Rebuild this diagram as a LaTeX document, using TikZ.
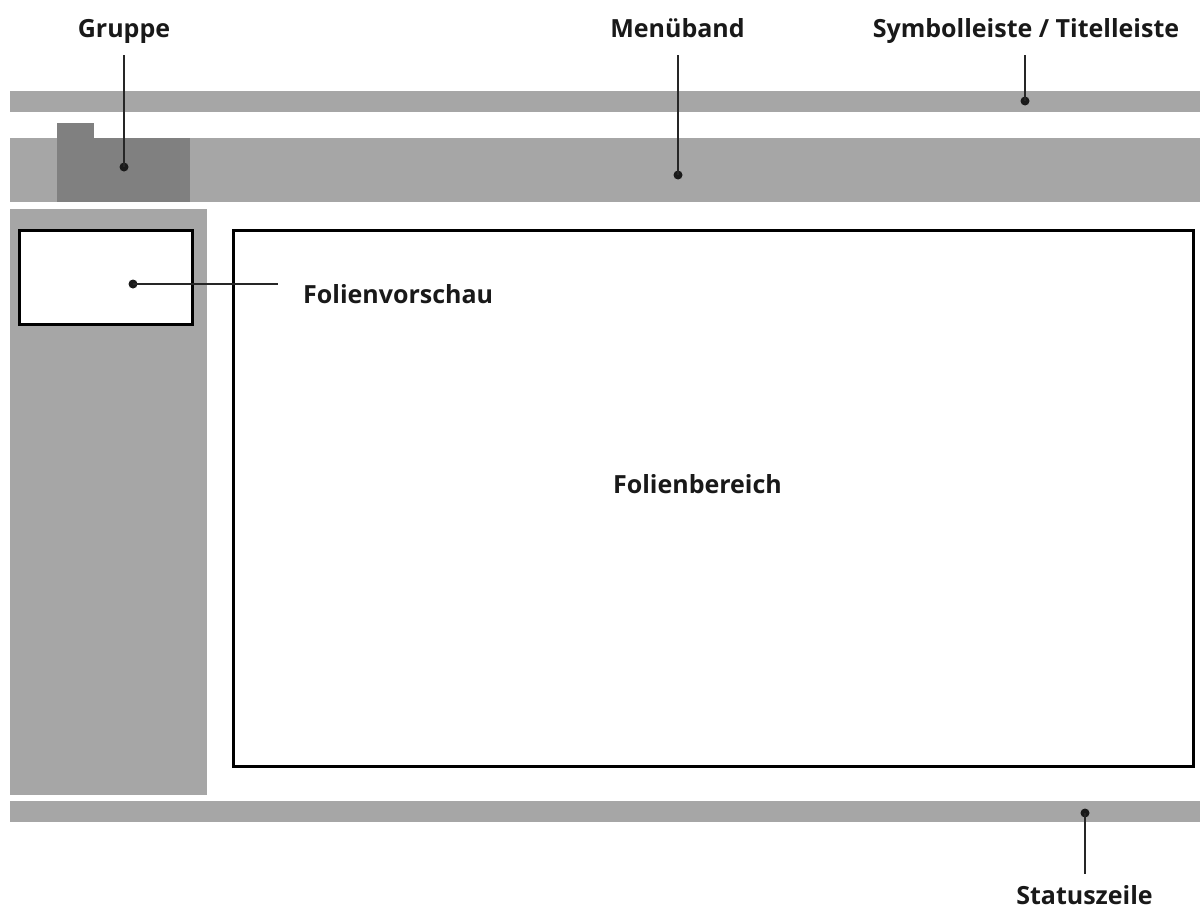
\documentclass[tikz,border=0pt]{standalone}
\usepackage{fontspec}
\setmainfont{Open Sans}
\definecolor{bargray}{HTML}{A6A6A6}
\definecolor{darkgray2}{HTML}{808080}
\definecolor{dotcol}{HTML}{1A1A1A}
\begin{document}
\begin{tikzpicture}[x=1pt,y=-1pt,
  bar/.style={fill=bargray,draw=none},
  frame/.style={draw=black,line width=3pt,fill=white},
  lbl/.style={font=\fontsize{25}{28}\selectfont\bfseries,text=black!90,inner sep=0pt,anchor=base},
  pin/.style={draw=black!85,line width=1.2pt},
  dot/.style={circle,fill=dotcol,inner sep=0pt,minimum size=9pt}]
\useasboundingbox[fill=white] (0,0) rectangle (1200,910);
% bars
\fill[bar] (10,91) rectangle (1200,112);
\fill[bar] (10,138) rectangle (1200,202);
\fill[darkgray2] (57,138) rectangle (190,202);
\fill[darkgray2] (57,123) rectangle (94,138);
\fill[bar] (10,209) rectangle (207,795);
\fill[bar] (10,801) rectangle (1200,822);
% frames
\draw[frame] (19.5,230.5) rectangle (192.5,324.5);
\draw[frame] (233.5,230.5) rectangle (1193.5,766.5);
% labels
\node[lbl] (gruppe) at (124,37) {Gruppe};
\node[lbl] (menu) at (677.5,37) {Menüband};
\node[lbl] (symb) at (1026,37) {Symbolleiste / Titelleiste};
\node[lbl,anchor=base west] (vor) at (303,303) {Folienvorschau};
\node[lbl] (bereich) at (697.5,493) {Folienbereich};
\node[lbl] (status) at (1084.5,904) {Statuszeile};
% pin ends
\coordinate (gtop) at (124,55);
\coordinate (mtop) at (678,55);
\coordinate (stop) at (1025,55);
\coordinate (vend) at (278,284);
\coordinate (sbot) at (1085,874);
% dots
\node[dot] (gdot) at (124,167) {};
\node[dot] (mdot) at (678,175) {};
\node[dot] (sdot) at (1025,101) {};
\node[dot] (vdot) at (133,284) {};
\node[dot] (stdot) at (1085,813) {};
% connectors
\draw[pin] (gtop) -- (gdot.center);
\draw[pin] (mtop) -- (mdot.center);
\draw[pin] (stop) -- (sdot.center);
\draw[pin] (vdot.center) -- (vend);
\draw[pin] (stdot.center) -- (sbot);
\end{tikzpicture}
\end{document}
